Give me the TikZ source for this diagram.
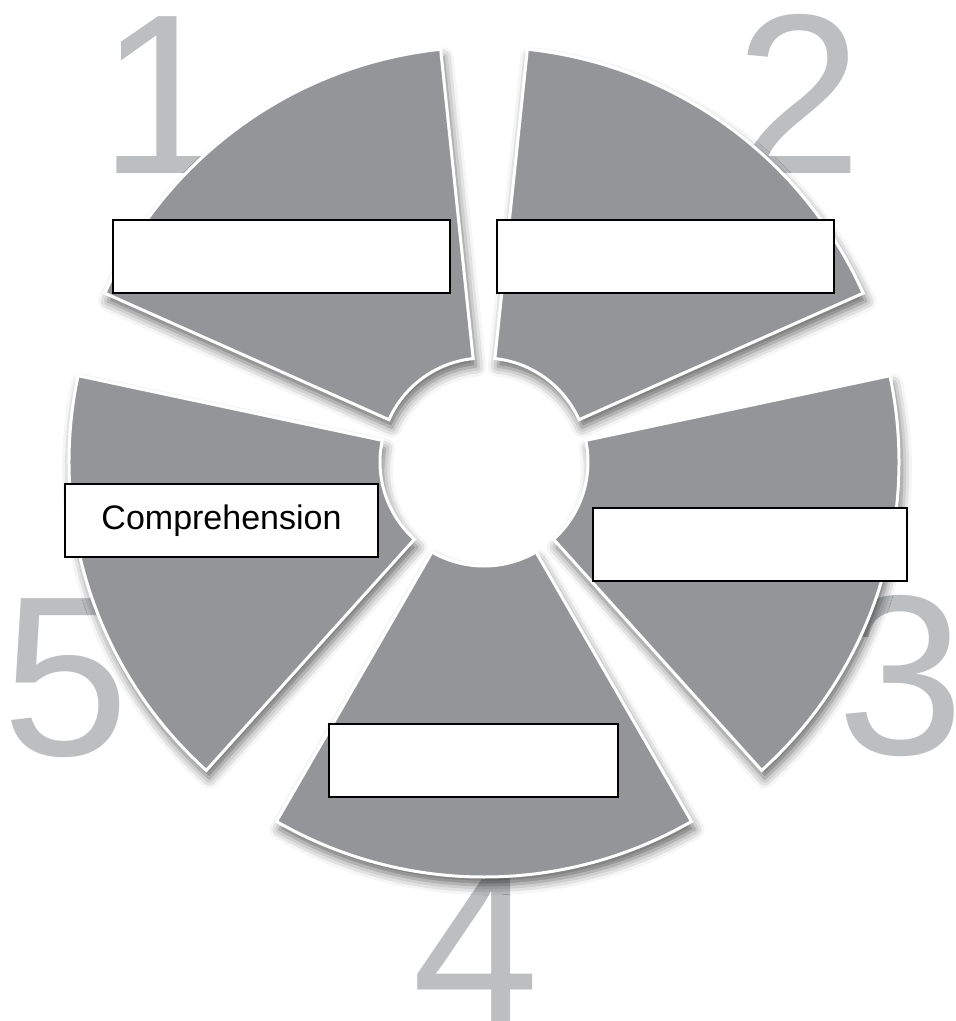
\documentclass[tikz,border=0pt]{standalone}
\usepackage{fontspec}
\setmainfont{Liberation Sans}
\usetikzlibrary{shadows.blur}
\definecolor{wedgegray}{HTML}{939598}
\definecolor{numgray}{HTML}{BCBEC0}
\tikzset{
  wedge/.style={fill=wedgegray, draw=white, line width=3pt, line join=miter,
    blur shadow={shadow xshift=3pt, shadow yshift=-8pt, shadow blur radius=10pt, shadow opacity=60}},
  numeral/.style={text=numgray, font=\fontsize{228}{228}\selectfont, inner sep=0pt, anchor=base},
  labelbox/.style={draw=black, fill=white, line width=2.5pt, inner sep=0pt,
    minimum height=73pt, font=\fontsize{34}{40}\selectfont}
}
\begin{document}
\begin{tikzpicture}[x=1pt,y=1pt]
\useasboundingbox (0,0) rectangle (956,-1021);
\clip (0,0) rectangle (956,-1021);
% big numerals behind
\node[numeral] (n1) at (163,-173) {1};
\node[numeral] (n2) at (799,-173) {2};
\node[numeral] (n3) at (901,-754) {3};
\node[numeral] (n4) at (476,-1025) {4};
\node[numeral] (n5) at (66,-755) {5};
% centre
\coordinate (c) at (484,-462);
% wedges
\foreach \m in {126,54,-18,-90,198}{
  \path[wedge] ([shift={(\m-30:415)}]c) arc[start angle=\m-30, end angle=\m+30, radius=415]
    -- ([shift={(\m+30:104)}]c) arc[start angle=\m+30, end angle=\m-30, radius=104] -- cycle;
}
% label boxes
\node[labelbox, minimum width=337pt] (b1) at (281.5,-256.5) {};
\node[labelbox, minimum width=337pt] (b2) at (665.5,-256.5) {};
\node[labelbox, minimum width=314pt] (b3) at (750,-544.5) {};
\node[labelbox, minimum width=289pt] (b4) at (473.5,-760.5) {};
\node[labelbox, minimum width=313pt] (b5) at (221.5,-520.5) {Comprehension};
\end{tikzpicture}
\end{document}
